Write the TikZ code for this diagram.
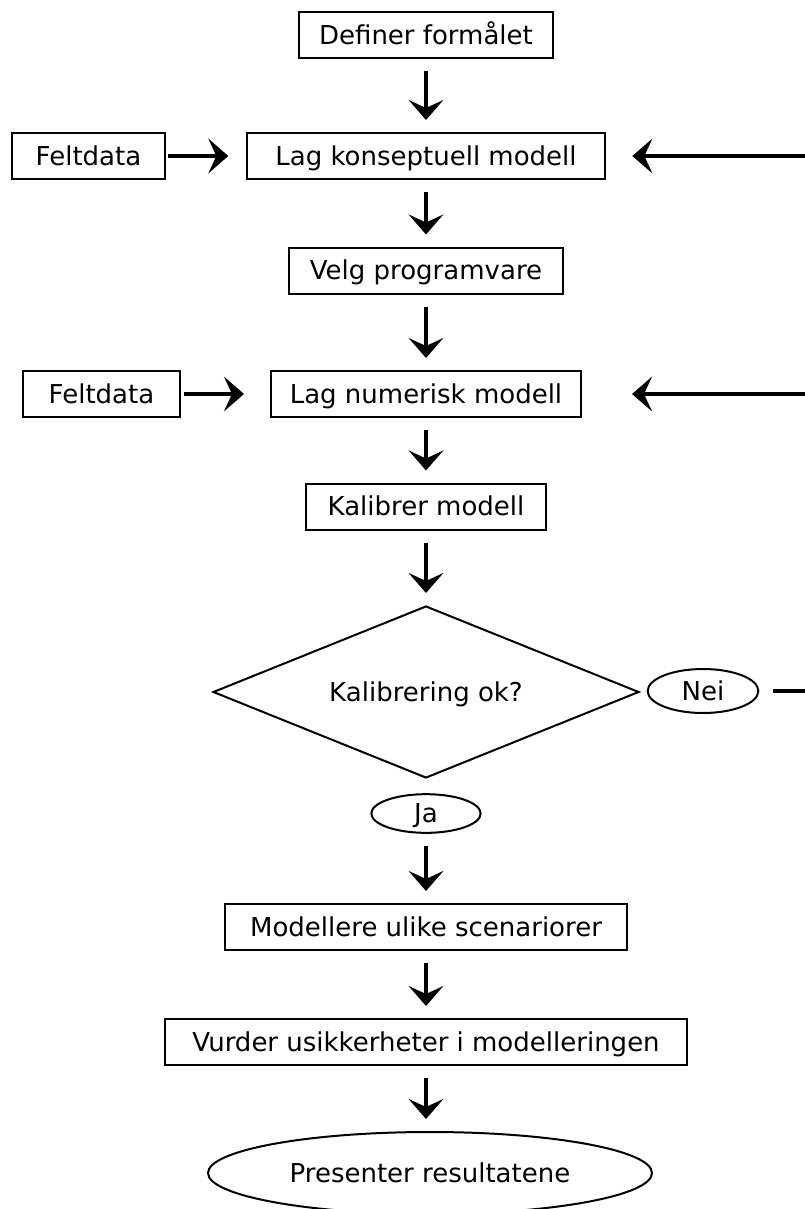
\documentclass[tikz,border=0pt]{standalone}
\usepackage{fontspec}
\setmainfont{DejaVu Sans}
\usetikzlibrary{
	arrows.meta, shapes.geometric, positioning, calc
}
\tikzset{
	tekst/.style={font=\fontsize{19.5}{22}\selectfont, text height=14.2pt, text depth=0pt},
	boks/.style={tekst, draw, line width=1.5pt, rectangle, minimum height=34.5pt, inner sep=0pt},
	oval/.style={tekst, draw, line width=1.5pt, ellipse, inner sep=0pt},
	valg/.style={tekst, draw, line width=1.5pt, diamond, shape aspect=2.5, inner sep=0pt, minimum width=319.5pt, minimum height=129pt},
	pil/.style={line width=2.3pt, -{Stealth[length=15pt,width=26pt,inset=6pt]}, shorten <=9pt, shorten >=9pt}
}

\begin{document}
\begin{tikzpicture}[x=0.75pt,y=-0.75pt]
	\useasboundingbox (0,0) rectangle (805,1209);
	% hovedløpet
	\node[boks, minimum width=190pt] (formal) at (426,35.5) {Definer formålet};
	\node[boks, minimum width=268pt] (konsept) at (426,156) {Lag konseptuell modell};
	\node[boks, minimum width=206pt] (program) at (426,270.5) {Velg programvare};
	\node[boks, minimum width=232.5pt] (numerisk) at (426,394) {Lag numerisk modell};
	\node[boks, minimum width=180pt] (kalib) at (426,506.5) {Kalibrer modell};
	\node[valg] (kalok) at (426,692) {Kalibrering ok?};
	\node[oval, minimum width=83pt, minimum height=33pt] (nei) at (703,691) {Nei};
	\node[oval, minimum width=82pt, minimum height=29pt] (ja) at (426,813.5) {Ja};
	\node[boks, minimum width=301pt] (scen) at (426,927) {Modellere ulike scenariorer};
	\node[boks, minimum width=391pt] (vurder) at (426,1042) {Vurder usikkerheter i modelleringen};
	\node[oval, minimum width=333pt, minimum height=61.5pt] (resultat) at (430,1173) {Presenter resultatene};
	% feltdata
	\node[boks, minimum width=115pt] (felt1) at (88.5,156) {Feltdata};
	\node[boks, minimum width=118pt] (felt2) at (101.5,394) {Feltdata};
	% løse ender mot høyre kant
	\coordinate (inn1) at (808,156);
	\coordinate (inn2) at (808,394);
	\coordinate (ut) at (808,691);

	\draw[pil] (formal) -- (konsept);
	\draw[pil] (konsept) -- (program);
	\draw[pil] (program) -- (numerisk);
	\draw[pil] (numerisk) -- (kalib);
	\draw[pil] (kalib) -- (kalok);
	\draw[pil] (ja) -- (scen);
	\draw[pil] (scen) -- (vurder);
	\draw[pil] (vurder.south) -- (vurder.south |- resultat.north);
	\draw[pil, shorten <=1.5pt, shorten >=13.5pt] (felt1) -- (konsept);
	\draw[pil, shorten <=2pt, shorten >=19.5pt] (felt2) -- (numerisk);
	\draw[pil, shorten <=0pt, shorten >=20pt] (inn1) -- (konsept);
	\draw[pil, shorten <=0pt, shorten >=37.5pt] (inn2) -- (numerisk);
	\draw[line width=2.3pt, shorten <=10pt] (nei) -- (ut);
\end{tikzpicture}
\end{document}
